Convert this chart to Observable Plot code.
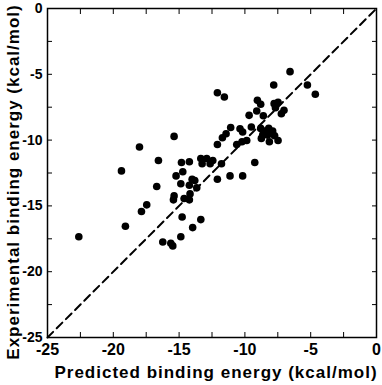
<!DOCTYPE html>
<html>
<head>
<meta charset="utf-8">
<script src="https://cdn.jsdelivr.net/npm/d3@7"></script>
<script src="https://cdn.jsdelivr.net/npm/@observablehq/plot@0.6"></script>
<style>
  html, body { margin: 0; padding: 0; background: #fff; }
  #chart svg { display: block; }
</style>
</head>
<body>
<div id="chart"></div>
<script>
const predicted = [
  -6.57, -7.81, -5.25, -4.65, -12.09, -11.56, -9.05, -8.80, -7.78, -7.48,
  -7.68, -9.10, -7.03, -7.23, -8.60, -9.68, -11.08, -10.37, -9.51, -10.17,
  -11.43, -11.71, -15.38, -18.01, -12.09, -10.62, -10.22, -9.86, -8.80, -8.49,
  -8.19, -7.89, -8.64, -8.29, -7.99, -7.74, -8.75, -8.14, -7.48, -9.25,
  -16.57, -14.82, -14.22, -13.35, -12.90, -12.44, -13.25, -12.64, -11.78, -19.38,
  -14.72, -15.23, -14.01, -13.81, -12.09, -11.13, -10.17, -16.70, -14.87, -14.22,
  -13.66, -15.38, -15.43, -14.62, -14.22, -14.17, -17.46, -17.86, -14.77, -13.35,
  -19.08, -13.97, -22.62, -14.87, -16.24, -15.63, -15.48
];
const experimental = [
  -4.80, -5.81, -5.81, -6.52, -6.40, -6.73, -6.98, -7.28, -7.23, -7.13,
  -7.54, -7.79, -7.74, -8.00, -8.15, -8.12, -9.04, -9.14, -9.01, -9.39,
  -9.52, -9.82, -9.72, -10.53, -10.33, -10.33, -10.13, -10.03, -9.11, -9.31,
  -9.11, -9.31, -9.57, -9.62, -9.52, -9.67, -9.87, -10.13, -10.03, -11.70,
  -11.55, -11.70, -11.65, -11.40, -11.40, -11.55, -11.80, -11.80, -11.80, -12.34,
  -12.41, -12.72, -12.97, -13.07, -12.97, -12.72, -12.72, -13.53, -13.32, -13.43,
  -13.63, -14.24, -14.54, -14.44, -14.54, -14.09, -14.92, -15.43, -15.84, -16.04,
  -16.55, -16.65, -17.34, -17.34, -17.74, -17.84, -18.04
];
const labelTicks = [-25, -20, -15, -10, -5, 0];
const minorTicks = [-22.5, -20, -17.5, -15, -12.5, -10, -7.5, -5, -2.5];
const diagonal = [-25, 0];
const xTitle = "Predicted binding energy (kcal/mol)";
const yTitle = "Experimental binding energy (kcal/mol)";

const points = predicted.map((p, i) => ({predicted: p, experimental: experimental[i]}));
const fmt = d => String(d);

const chart = Plot.plot({
  width: 382,
  height: 385,
  marginLeft: 47,
  marginRight: 6,
  marginTop: 8,
  marginBottom: 48,
  style: {fontFamily: "'Liberation Sans', Arial, sans-serif", fontWeight: "bold", color: "#000", background: "#fff"},
  x: {domain: [-25, 0]},
  y: {domain: [-25, 0]},
  marks: [
    Plot.axisX(labelTicks, {anchor: "bottom", tickSize: 0, tickPadding: 6, fontSize: 16, tickFormat: fmt, label: null}),
    Plot.axisY(labelTicks, {anchor: "left", tickSize: 0, tickPadding: 5, fontSize: 14, tickFormat: fmt, label: null}),
    Plot.axisX(minorTicks, {anchor: "bottom", tickSize: 5, insetBottom: 5, text: null, label: null}),
    Plot.axisX(minorTicks, {anchor: "top", tickSize: 5, insetTop: 5, text: null, label: null}),
    Plot.axisY(minorTicks, {anchor: "left", tickSize: 5, insetLeft: 5, text: null, label: null}),
    Plot.axisY(minorTicks, {anchor: "right", tickSize: 5, insetRight: 5, text: null, label: null}),
    Plot.line(diagonal, {x: d => d, y: d => d, stroke: "#000", strokeWidth: 2, strokeDasharray: "8,5"}),
    Plot.dot(points, {x: "predicted", y: "experimental", r: 3.8, fill: "#000", stroke: "none"}),
    Plot.frame({stroke: "#000", strokeWidth: 1.5}),
    Plot.text([xTitle], {text: d => d, frameAnchor: "bottom", textAnchor: "middle", lineAnchor: "middle", dx: 4, dy: 35, fontSize: 17, fill: "#000"}),
    Plot.text([yTitle], {text: d => d, frameAnchor: "left", textAnchor: "middle", lineAnchor: "middle", rotate: -90, dx: -34, dy: 9, fontSize: 17, fill: "#000"})
  ]
});
d3.select(chart).selectAll("g[aria-label='text'] text").style("letter-spacing", "1px");
document.getElementById("chart").appendChild(chart);
</script>
</body>
</html>
